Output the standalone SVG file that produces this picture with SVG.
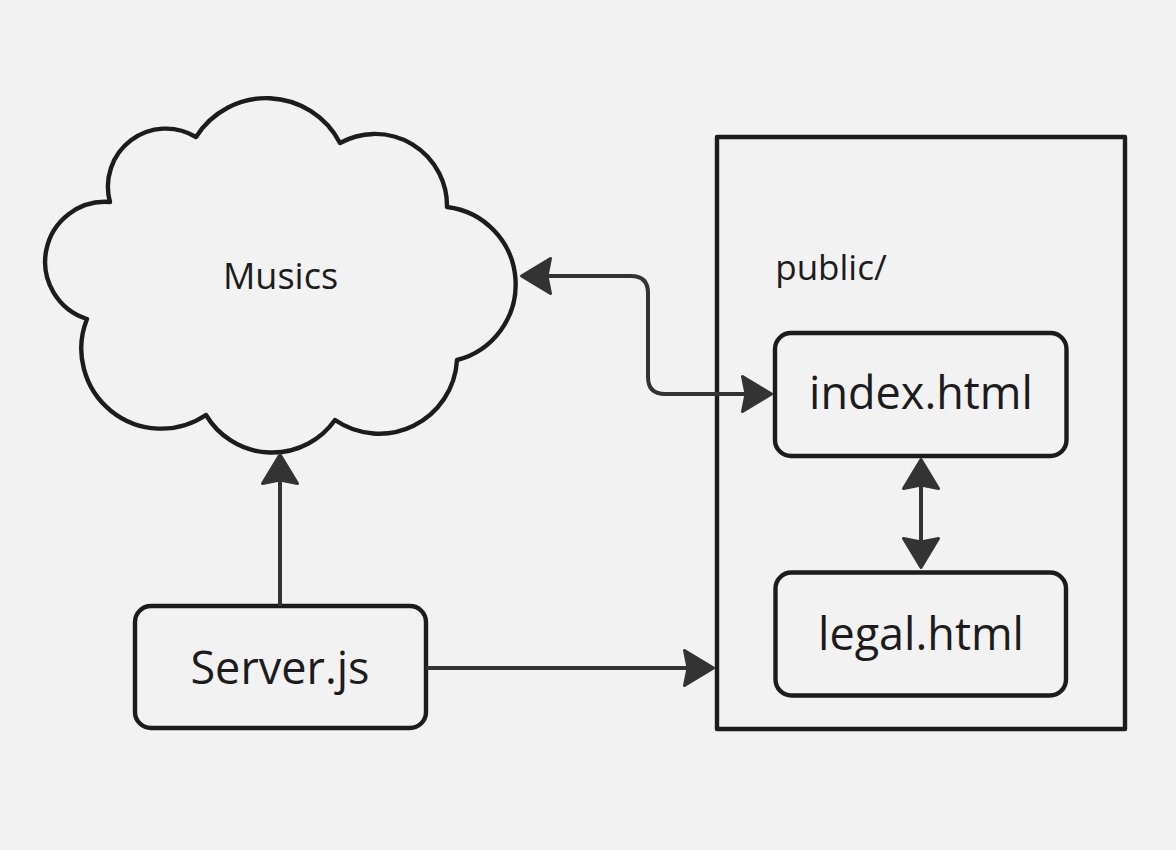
<svg xmlns="http://www.w3.org/2000/svg" width="1176" height="850" viewBox="0 0 1176 850">
<style>
.shape{fill:#f2f2f2;stroke:#1c1c1c;stroke-width:4.4;stroke-linejoin:round}
.lbl{font-family:"Open Sans","Noto Sans","Liberation Sans",sans-serif;fill:#1c1c1c;text-anchor:middle}
.conn{fill:none;stroke:#333333;stroke-width:4;stroke-linejoin:round}
</style>
<defs>
<marker id="ah" viewBox="-10 -25 45 50" refX="0" refY="0" markerWidth="45" markerHeight="50" markerUnits="userSpaceOnUse" orient="auto-start-reverse">
<path d="M25.5,0 L-3.5,-17.5 L0,0 L-3.5,17.5 Z" fill="#333333" stroke="#333333" stroke-width="3" stroke-linejoin="round"/>
</marker>
</defs>
<rect width="1176" height="850" fill="#f2f2f2"/>
<g id="public">
<rect class="shape" x="717" y="137" width="408" height="592" stroke-linejoin="miter"/>
<text class="lbl" x="831" y="280" font-size="35">public/</text>
</g>
<g id="musics">
<path class="shape" d="M196,137 A83,83 0 0 1 340,143 A72,72 0 0 1 447,207 A78,78 0 0 1 457,360 A78,78 0 0 1 335,420 A77,77 0 0 1 206,415 A80,80 0 0 1 87,319 A60,60 0 0 1 110,202 A58,58 0 0 1 196,137 Z"/>
<text class="lbl" x="280.5" y="289" font-size="36">Musics</text>
</g>
<g id="index">
<rect class="shape" x="775" y="333" width="291.5" height="123" rx="16"/>
<text class="lbl" x="921" y="409" font-size="45">index.html</text>
</g>
<g id="legal">
<rect class="shape" x="775.5" y="572.5" width="290.5" height="123" rx="16"/>
<text class="lbl" x="921" y="650" font-size="45">legal.html</text>
</g>
<g id="server">
<rect class="shape" x="135" y="606" width="291" height="122" rx="16"/>
<text class="lbl" x="280" y="684" font-size="45">Server.js</text>
</g>
<g id="connectors">
<path class="conn" d="M547,276 L631,276 Q648,276 648,293 L648,377 Q648,394 665,394 L746,394" marker-start="url(#ah)" marker-end="url(#ah)"/>
<path class="conn" d="M921,485 L921,542" marker-start="url(#ah)" marker-end="url(#ah)"/>
<path class="conn" d="M280,606 L280,480" marker-end="url(#ah)"/>
<path class="conn" d="M426,668 L688,668" marker-end="url(#ah)"/>
</g>
</svg>
